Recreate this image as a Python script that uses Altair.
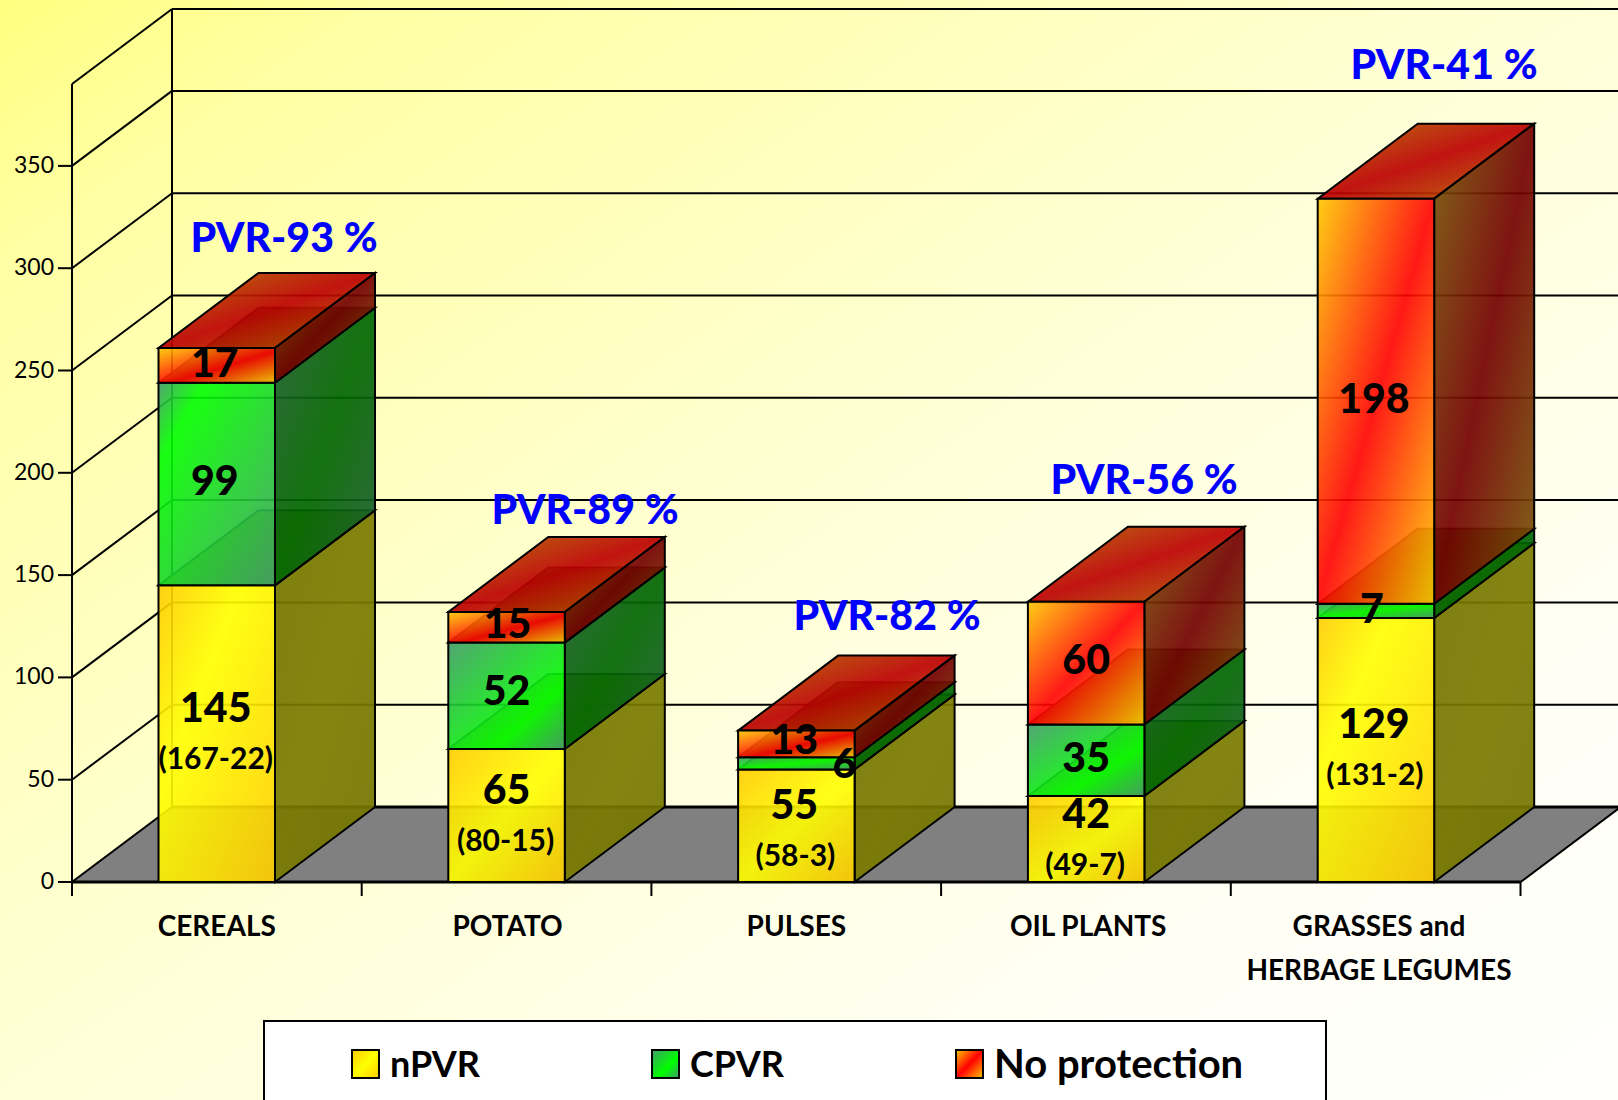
import altair as alt
import pandas as pd

# Chart values
categories = ["CEREALS", "POTATO", "PULSES", "OIL PLANTS", "GRASSES and\nHERBAGE LEGUMES"]
npvr = [145, 65, 55, 42, 129]
cpvr = [99, 52, 6, 35, 7]
no_protection = [17, 15, 13, 60, 198]
breakdown = ["(167-22)", "(80-15)", "(58-3)", "(49-7)", "(131-2)"]
pvr_share = ["PVR-93 %", "PVR-89 %", "PVR-82 %", "PVR-56 %", "PVR-41 %"]
y_ticks = [0, 50, 100, 150, 200, 250, 300, 350]
legend_names = ["nPVR", "CPVR", "No protection"]

# Canvas geometry: a category is one x unit, a bar total is one y unit
W, H = 1618, 1100
X0_PX, BAND_PX = 72, 289.8
Y0_PX, PX_PER_UNIT = 882, 2.046


def ux(px):
    return (px - X0_PX) / BAND_PX


def uy(px):
    return (Y0_PX - px) / PX_PER_UNIT


DEPTH_X = 100 / BAND_PX
DEPTH_Y = 75 / PX_PER_UNIT
BAR_OFFSET = 86.5 / BAND_PX
BAR_WIDTH = 116.5 / BAND_PX
WALL_TOP = uy(84)
X_SCALE = alt.Scale(domain=[ux(0), ux(W)], range=[0, W], nice=False, zero=False)
Y_SCALE = alt.Scale(domain=[uy(H), uy(0)], range=[H, 0], nice=False, zero=False)
FONT = "Lato"


def gradient(stops):
    return alt.Gradient(
        gradient="linear", x1=0, y1=0, x2=1, y2=1,
        stops=[alt.GradientStop(color=c, offset=o) for o, c in stops],
    )


def tri(edge, mid, peak):
    return gradient([(0, edge), (peak, mid), (1, edge)])


def polygon(xs, lows, highs, fill, opacity=1.0, stroke="black", stroke_width=2.0):
    df = pd.DataFrame({"x": xs, "y": lows, "y2": highs})
    kw = {"stroke": stroke, "strokeWidth": stroke_width} if stroke else {"strokeWidth": 0}
    return alt.Chart(df).mark_area(
        orient="vertical", color=fill, fillOpacity=opacity, **kw
    ).encode(
        x=alt.X("x:Q", scale=X_SCALE, axis=None),
        y=alt.Y("y:Q", scale=Y_SCALE, axis=None),
        y2="y2:Q",
    )


def segments(rows, width=2.0, color="black"):
    records = []
    for k, ((x1, y1), (x2, y2)) in enumerate(rows):
        records.append({"seg": k, "o": 0, "x": x1, "y": y1})
        records.append({"seg": k, "o": 1, "x": x2, "y": y2})
    return alt.Chart(pd.DataFrame(records)).mark_line(
        color=color, strokeWidth=width
    ).encode(
        x=alt.X("x:Q", scale=X_SCALE, axis=None),
        y=alt.Y("y:Q", scale=Y_SCALE, axis=None),
        detail="seg:N",
        order="o:Q",
    )


def labels(rows, size, weight="bold", color="black", align="center"):
    df = pd.DataFrame(rows, columns=["x", "y", "t"])
    return alt.Chart(df).mark_text(
        font=FONT, fontSize=size, fontWeight=weight, color=color,
        align=align, baseline="middle",
    ).encode(
        x=alt.X("x:Q", scale=X_SCALE, axis=None),
        y=alt.Y("y:Q", scale=Y_SCALE, axis=None),
        text="t:N",
    )


layers = []

# Page background
layers.append(polygon(
    [ux(0), ux(W)], [uy(H), uy(H)], [uy(0), uy(0)],
    alt.Gradient(gradient="linear", x1=0, y1=0, x2=1, y2=1, stops=[
        alt.GradientStop(color="#FFFF80", offset=0),
        alt.GradientStop(color="#FFFFA4", offset=0.12),
        alt.GradientStop(color="#FFFFD8", offset=0.5),
        alt.GradientStop(color="#FFFFF6", offset=0.8),
        alt.GradientStop(color="#FFFFFC", offset=1),
    ]),
    stroke=None,
))

# Floor of the box
floor_right = ux(1520.5)
layers.append(polygon(
    [0, DEPTH_X, floor_right, floor_right + DEPTH_X],
    [0, 0, 0, DEPTH_Y],
    [0, DEPTH_Y, DEPTH_Y, DEPTH_Y],
    "#808080", stroke_width=2,
))

# Walls, grid and ticks
wall = [
    ((0, uy(896)), (0, WALL_TOP)),
    ((0, WALL_TOP), (DEPTH_X, WALL_TOP + DEPTH_Y)),
    ((DEPTH_X, DEPTH_Y), (DEPTH_X, WALL_TOP + DEPTH_Y)),
    ((DEPTH_X, WALL_TOP + DEPTH_Y), (ux(W), WALL_TOP + DEPTH_Y)),
]
for v in y_ticks[1:]:
    wall.append(((0, v), (DEPTH_X, v + DEPTH_Y)))
    wall.append(((DEPTH_X, v + DEPTH_Y), (ux(W), v + DEPTH_Y)))
for v in y_ticks:
    wall.append(((ux(58), v), (0, v)))
for i in range(6):
    wall.append(((i * floor_right / 5, 0), (i * floor_right / 5, uy(896))))
layers.append(segments(wall, 2.0))
layers.append(segments([((DEPTH_X, DEPTH_Y), (ux(W), DEPTH_Y)), ((0, 0), (floor_right, 0))], 3.0))

# Face colours per series: front, side, top
FACES = [
    (("#FFCC00", "#FFFF00"), ("#747400", "#7A7A00"), ("#8A8A00", "#8F8F00")),
    (("#3E9C68", "#00FF00"), ("#1E5C36", "#006600"), ("#1E5C36", "#006600")),
    (("#FFC800", "#FF0000"), ("#765808", "#740000"), ("#B46800", "#BC0000")),
]
# Where the bright band of each front face falls, bar by bar
PEAKS = [
    [0.35, 0.5, 0.5, 0.55, 0.3],
    [0.2, 0.7, 0.5, 0.65, 0.5],
    [0.55, 0.55, 0.55, 0.5, 0.5],
]

series = [npvr, cpvr, no_protection]
text_rows = []
sub_rows = []
PX = 1 / PX_PER_UNIT

# Value label nudges in pixels (x, y), one row per series
NUDGE = [
    [(-1, -24), (0, -24), (-2, -19), (0, -23), (-2, -24)],
    [(-2, -1), (0, -3), (48, 3), (0, 0), (-4, 0)],
    [(-2, 0), (1, -1), (-2, -2), (0, -1), (-2, 0)],
]

for i in range(len(categories)):
    L = i + BAR_OFFSET
    R = L + BAR_WIDTH
    center = (L + R) / 2
    base = 0
    for s, values in enumerate(series):
        top = base + values[i]
        (fe, fm), (se, sm), (te, tm) = FACES[s]
        # top face
        layers.append(polygon(
            [L, L + DEPTH_X, R, R + DEPTH_X],
            [top, top, top, top + DEPTH_Y],
            [top, top + DEPTH_Y, top + DEPTH_Y, top + DEPTH_Y],
            tri(te, tm, 0.5), opacity=0.92,
        ))
        # side face
        layers.append(polygon(
            [R, R + DEPTH_X],
            [base, base + DEPTH_Y],
            [top, top + DEPTH_Y],
            tri(se, sm, 0.5), opacity=0.92,
        ))
        # front face
        layers.append(polygon(
            [L, R], [base, base], [top, top],
            tri(fe, fm, PEAKS[s][i]), opacity=0.9,
        ))
        nx, ny = NUDGE[s][i]
        text_rows.append((center + nx / BAND_PX, (base + top) / 2 - ny * PX, str(values[i])))
        if s == 0:
            sub_rows.append((center - 1 / BAND_PX, (base + top) / 2 - (ny + 50) * PX, breakdown[i]))
        base = top

layers.append(labels(text_rows, 41, weight=900))
layers.append(labels(sub_rows, 30))

# Share of protected varieties above each bar
pvr_anchor = [(284, 240), (585, 512), (887, 618), (1144, 482), (1444, 67)]
layers.append(labels(
    [(ux(a), uy(b), t) for (a, b), t in zip(pvr_anchor, pvr_share)],
    41, color="#0000FF", weight=900,
))

# Axis text
layers.append(labels([(ux(54), v, str(v)) for v in y_ticks], 23, weight="normal", align="right"))
category_center_shift = [0, 1, 0, 2, 3]
category_rows = []
for i, name in enumerate(categories):
    center = i + BAR_OFFSET + BAR_WIDTH / 2 + category_center_shift[i] / BAND_PX
    for k, part in enumerate(name.split("\n")):
        category_rows.append((center, uy(928 + 44 * k), part))
layers.append(labels(category_rows, 28))

# Legend panel, running off the bottom edge
layers.append(polygon([ux(264), ux(1326)], [uy(1104), uy(1104)], [uy(1021), uy(1021)], "#FFFFFF", stroke_width=2))
swatch_left = [352, 652, 956]
text_left = [390, 690, 994]
legend_peaks = [0.5, 0.6, 0.5]
legend_sizes = [36, 36, 40]
for k, name in enumerate(legend_names):
    edge, mid = FACES[k][0]
    layers.append(polygon(
        [ux(swatch_left[k]), ux(swatch_left[k] + 27)],
        [uy(1078), uy(1078)], [uy(1050), uy(1050)],
        tri(edge, mid, legend_peaks[k]),
    ))
    layers.append(labels([(ux(text_left[k]), uy(1066), name)], legend_sizes[k], align="left"))

chart = alt.layer(*layers).properties(
    width=W, height=H, padding=0, autosize=alt.AutoSizeParams(type="none"),
).configure_view(stroke=None)

chart.save("out.html", embed_options={"renderer": "svg", "actions": False})
